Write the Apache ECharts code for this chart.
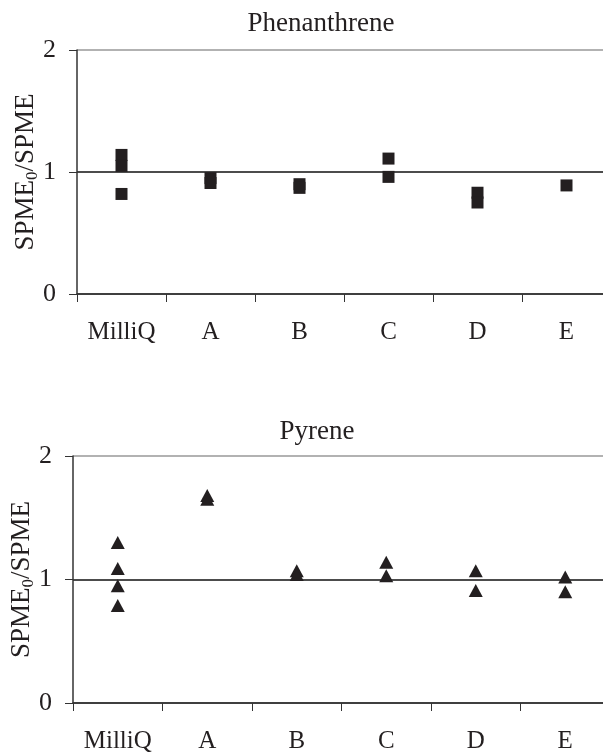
<!DOCTYPE html>
<html>
<head>
<meta charset="utf-8">
<script src="https://cdn.jsdelivr.net/npm/echarts@6/dist/echarts.min.js"></script>
<style>
  html, body { margin: 0; padding: 0; background: #fff; }
  #main { width: 603px; height: 756px; }
</style>
</head>
<body>
<div id="main"></div>
<script>
// categories (water samples)
var categories = ['MilliQ', 'A', 'B', 'C', 'D', 'E'];
// SPME0/SPME readings per category
var phenanthrene = [
  [1.14, 1.05, 0.82],
  [0.95, 0.91],
  [0.90, 0.87],
  [1.11, 0.96],
  [0.83, 0.75],
  [0.89]
];
var pyrene = [
  [1.30, 1.09, 0.95, 0.79],
  [1.68, 1.65],
  [1.07, 1.04],
  [1.14, 1.03],
  [1.07, 0.91],
  [1.02, 0.90]
];
var yTicks = [0, 1, 2];

var ink = '#231f20';
var serif = '"Liberation Serif", "DejaVu Serif", serif';

// flatten to [categoryIndex, value]
var toPoints = function (arr) {
  var pts = [];
  for (var i = 0; i < arr.length; i++) {
    for (var j = 0; j < arr[i].length; j++) {
      pts.push([i, arr[i][j]]);
    }
  }
  return pts;
};

var xAxisOpt = function (gridIndex) {
  return {
    type: 'category',
    gridIndex: gridIndex,
    data: categories,
    axisLine: { show: true, lineStyle: { color: '#333', width: 1.5 } },
    axisTick: { show: true, interval: 0, length: 8, lineStyle: { color: '#333', width: 1 } },
    axisLabel: { interval: 0, color: ink, fontFamily: serif, fontSize: 25, margin: 26 }
  };
};
var yAxisOpt = function (gridIndex) {
  return {
    type: 'value',
    gridIndex: gridIndex,
    min: yTicks[0],
    max: yTicks[yTicks.length - 1],
    interval: 1,
    name: '{a|SPME}{s|0}{a|/SPME}',
    nameLocation: 'middle',
    nameGap: 36,
    nameMoveOverlap: false,
    nameTextStyle: {
      color: ink,
      fontFamily: serif,
      fontSize: 27,
      rich: {
        a: { fontFamily: serif, fontSize: 27, color: ink, lineHeight: 30 },
        s: { fontFamily: serif, fontSize: 17, color: ink, verticalAlign: 'bottom', lineHeight: 19 }
      }
    },
    axisLine: { show: true, lineStyle: { color: '#333', width: 1.5 } },
    axisTick: { show: true, length: 8, lineStyle: { color: '#333', width: 1 } },
    axisLabel: { color: ink, fontFamily: serif, fontSize: 26, margin: 21 },
    splitLine: {
      show: true,
      lineStyle: { color: ['#333', '#111', '#999'], width: 1.5 }
    }
  };
};

var chart = echarts.init(document.getElementById('main'));
chart.setOption({
  backgroundColor: '#fff',
  animation: false,
  title: [
    {
      text: 'Phenanthrene', left: 316, top: 5, textAlign: 'center',
      textStyle: { color: ink, fontFamily: serif, fontSize: 27, fontWeight: 'normal' }
    },
    {
      text: 'Pyrene', left: 312, top: 413, textAlign: 'center',
      textStyle: { color: ink, fontFamily: serif, fontSize: 27, fontWeight: 'normal' }
    }
  ],
  grid: [
    { left: 77, width: 534, top: 50, height: 244, outerBoundsMode: 'none' },
    { left: 73, width: 537, top: 456, height: 247, outerBoundsMode: 'none' }
  ],
  xAxis: [xAxisOpt(0), xAxisOpt(1)],
  yAxis: [yAxisOpt(0), yAxisOpt(1)],
  series: [
    {
      name: 'Phenanthrene',
      type: 'scatter',
      xAxisIndex: 0,
      yAxisIndex: 0,
      symbol: 'rect',
      symbolSize: 12,
      itemStyle: { color: ink, opacity: 1 },
      data: toPoints(phenanthrene)
    },
    {
      name: 'Pyrene',
      type: 'scatter',
      xAxisIndex: 1,
      yAxisIndex: 1,
      symbol: 'triangle',
      symbolSize: [14, 13],
      itemStyle: { color: ink, opacity: 1 },
      data: toPoints(pyrene)
    }
  ]
});
</script>
</body>
</html>
